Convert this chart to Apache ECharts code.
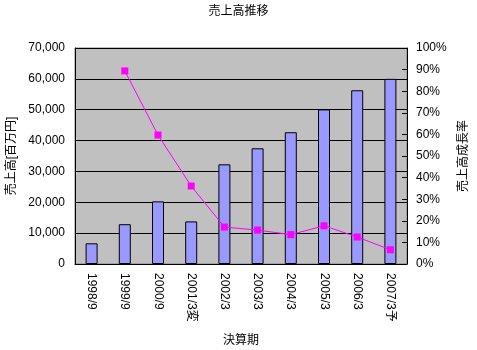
<!DOCTYPE html>
<html><head><meta charset="utf-8">
<script src="https://cdn.jsdelivr.net/npm/echarts@6/dist/echarts.min.js"></script>
<style>html,body{margin:0;padding:0;background:#fff}#c{width:477px;height:350px}</style>
</head><body><div id="c"></div>
<script>
const categories = ['1998/9','1999/9','2000/9','2001/3変','2002/3','2003/3','2004/3','2005/3','2006/3','2007/3予'];
const sales = [6700, 12900, 20300, 13800, 32300, 37500, 42700, 50100, 56300, 60000];
const growth = [null, 0.894, 0.597, 0.361, 0.171, 0.157, 0.136, 0.177, 0.125, 0.066];
const FF = 'Liberation Sans, Arial, "Noto Sans CJK JP", sans-serif';
const chart = echarts.init(document.getElementById('c'), null, {renderer:'canvas'});
chart.setOption({
  animation:false,
  backgroundColor:'#fff',
  textStyle:{fontFamily:FF},
  title:{text:'売上高推移', left:'center', top:1, textStyle:{fontSize:12, fontWeight:'normal', color:'#000', fontFamily:FF}},
  grid:{left:75, right:70, top:48, bottom:86, containLabel:false, outerBoundsMode:'none', show:true, backgroundColor:'#C0C0C0', borderColor:'#808080', borderWidth:1},
  xAxis:{type:'category', data:categories, boundaryGap:true,
    name:'決算期', nameLocation:'middle', nameGap:71, nameTextStyle:{fontSize:12, color:'#000'},
    axisLine:{lineStyle:{color:'#000'}}, axisTick:{inside:true, length:4, lineStyle:{color:'#000'}},
    axisLabel:{rotate:-90, margin:9, fontSize:12, color:'#000', interval:0}},
  yAxis:[
    {type:'value', min:0, max:70000, interval:10000,
     name:'売上高[百万円]', nameLocation:'middle', nameRotate:90, nameGap:56, nameTextStyle:{fontSize:12, color:'#000'},
     axisLine:{show:true, lineStyle:{color:'#000'}}, axisTick:{show:true, inside:true, length:4, lineStyle:{color:'#000'}},
     axisLabel:{fontSize:12, color:'#000', margin:10, formatter:v=>v.toLocaleString('en-US')},
     splitLine:{show:true, lineStyle:{color:'#000', width:1}}},
    {type:'value', min:0, max:1, interval:0.1, position:'right',
     name:'売上高成長率', nameLocation:'middle', nameRotate:90, nameGap:51, nameTextStyle:{fontSize:12, color:'#000'},
     axisLine:{show:true, lineStyle:{color:'#000'}}, axisTick:{show:true, inside:true, length:5, lineStyle:{color:'#000'}},
     axisLabel:{fontSize:12, color:'#000', margin:9, formatter:v=>Math.round(v*100)+'%'},
     splitLine:{show:false}}
  ],
  series:[
    {type:'bar', data:sales, yAxisIndex:0, barWidth:12,
     itemStyle:{color:'#9999FF', borderColor:'#000', borderWidth:1}},
    {type:'line', data:growth, yAxisIndex:1, symbol:'rect', symbolSize:7, connectNulls:false,
     lineStyle:{color:'#FF00FF', width:1}, itemStyle:{color:'#FF00FF'}}
  ]
});
</script></body></html>
